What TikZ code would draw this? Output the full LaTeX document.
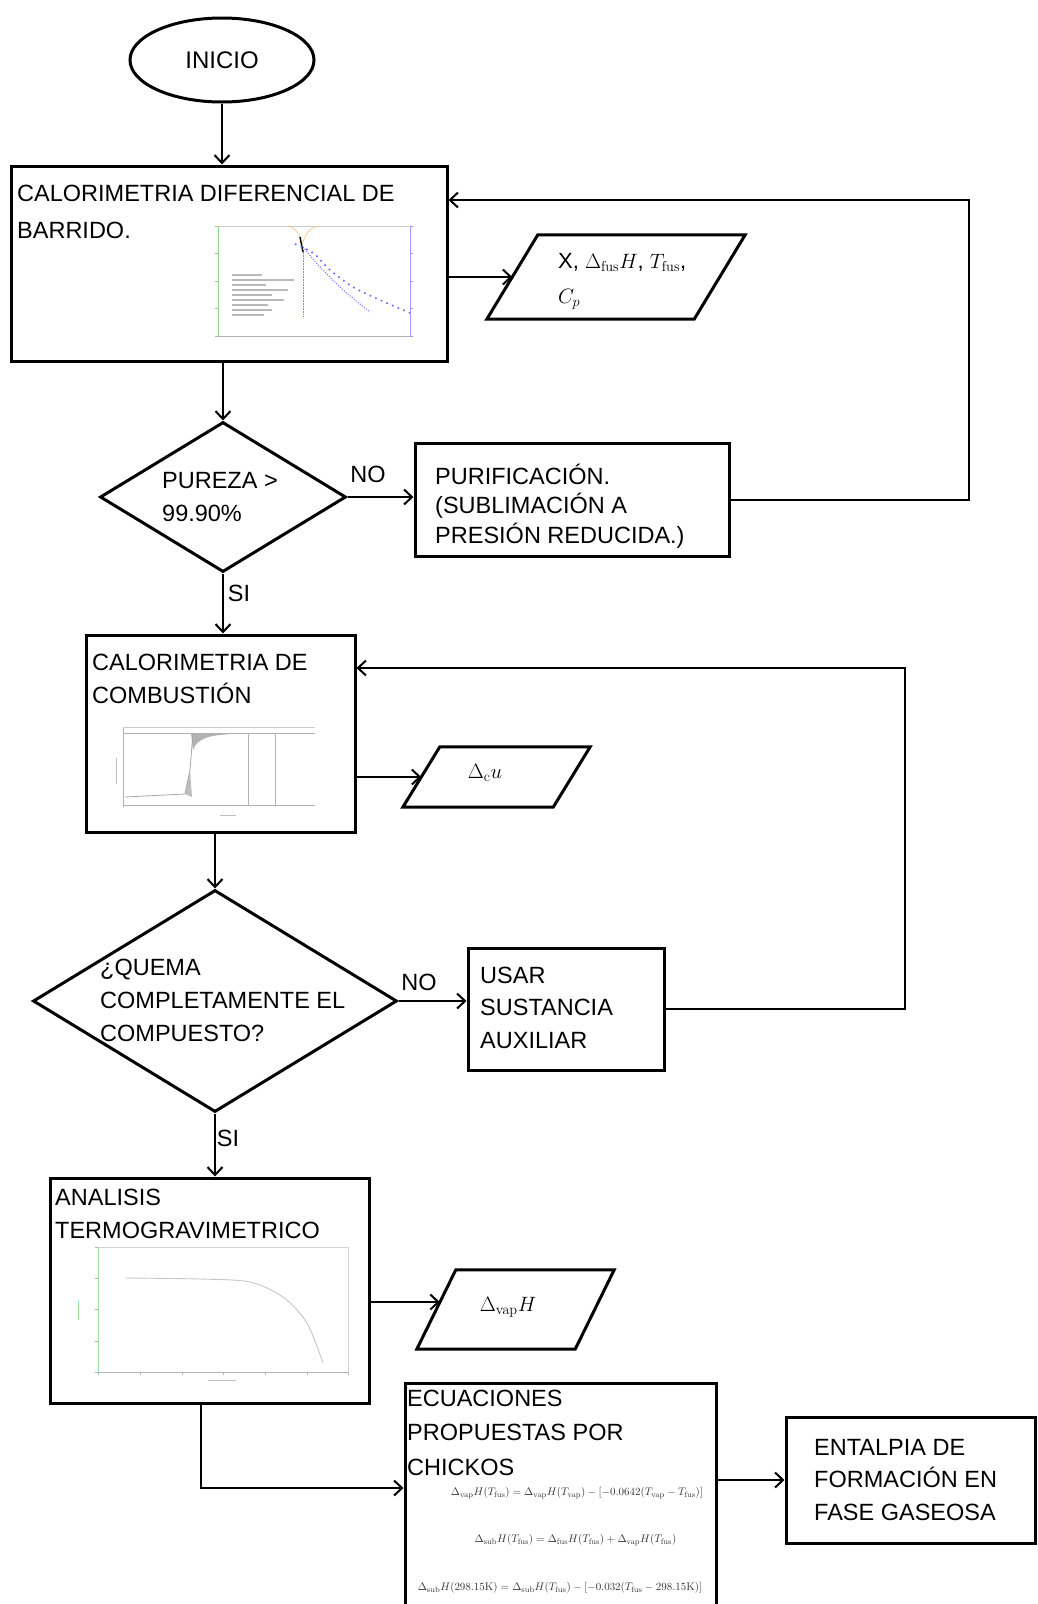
\documentclass[tikz,border=0pt]{standalone}
\usepackage{amsmath}
\usepackage[no-math]{fontspec}
\setmainfont{Liberation Sans}
\usepackage{tikz}
\usetikzlibrary{shapes.geometric}
\usetikzlibrary{arrows.meta}
\usetikzlibrary{calc}

\begin{document}
\begin{tikzpicture}[x=1pt, y=-1pt,
    caja/.style={draw, rectangle, line width=3pt, inner sep=0pt},
    rombo/.style={draw, diamond, line width=3pt, inner sep=0pt},
    datos/.style={rectangle, inner sep=0pt},
    borde/.style={line width=3pt, line join=miter},
    texto/.style={anchor=base west, align=left, inner sep=0pt, font=\fontsize{23.5}{33}\selectfont},
    etq/.style={inner sep=0pt, font=\fontsize{23.5}{28}\selectfont},
    mate/.style={inner sep=0pt, font=\fontsize{22}{35}\selectfont},
    eqn/.style={inner sep=0pt, text=black!80, font=\fontsize{11}{13}\selectfont},
    flecha/.style={-{Straight Barb[length=8pt,width=15pt]}, line width=2pt},
    graf/.style={line width=0.6pt, gray!60}]

\useasboundingbox (0,0) rectangle (1037,1604);

        \node[draw, ellipse, line width=3pt, minimum width=184pt, minimum height=84pt, font=\fontsize{24}{28}\selectfont] (inicio) at (222,60) {INICIO};

        % calorimetria diferencial
        \node[caja, minimum width=436pt, minimum height=195pt] (dsc) at (229,263.5) {};
        \node[texto, font=\fontsize{23.5}{37}\selectfont] (dsct) at (17,238.5) {CALORIMETRIA DIFERENCIAL DE\\BARRIDO.};
        \draw[graf, green!50!gray!60] (218,226) -- (218,336);
        \draw[graf] (218,336) -- (410,336);
        \draw[graf, gray!40] (218,226) -- (410,226);
        \draw[graf, blue!40] (410,226) -- (410,336);
        \foreach \yy in {226,253.5,281,308.5,336} {
          \draw[graf] (215,\yy) -- (218,\yy);
          \draw[graf, blue!40] (410,\yy) -- (413,\yy);
        }
        \draw[orange!60, line width=0.5pt] (288,226) .. controls (298,228) and (300,238) .. (302,245) .. controls (304,238) and (308,228) .. (318,226);
        \draw[green!50!gray, densely dotted, line width=0.6pt] (303,250) -- (303,316);
        \draw[line width=1.4pt] (300,237) -- (303,252);
        \draw[blue!60, line width=1.6pt, dash pattern=on 1.6pt off 4.5pt] plot[smooth] coordinates {(295,244) (313,253) (330,270) (353,287) (380,300) (410,313)};
        \draw[blue!55, line width=1.1pt, dash pattern=on 1pt off 1.6pt] plot[smooth] coordinates {(303,247) (320,267) (340,287) (355,300) (370,312)};
        \foreach \k/\w in {0/30,1/62,2/34,3/56,4/40,5/52,6/36,7/40,8/32} {
          \draw[gray!55, line width=1.3pt] (232,275+5*\k) -- ++(\w,0);
        }

        \node[datos, minimum width=258pt, minimum height=84pt] (res1) at (616,277) {};
        \draw[borde] (res1.south west) -- ($(res1.north west)+(51,0)$) -- (res1.north east) -- ($(res1.south east)-(51,0)$) -- cycle;
        \node[mate, anchor=base west, align=left] (res1t) at (558,303) {X, $\Delta_{\mathrm{fus}}H$, $T_{\mathrm{fus}}$,\\$C_p$};

        % pureza
        \node[rombo, minimum width=246pt, minimum height=150pt] (pureza) at (223,497) {};
        \node[texto] (purezat) at (162,521) {PUREZA >\\99.90\%};
        \node[etq] (no1) at (368,474) {NO};
        \node[caja, minimum width=314pt, minimum height=113pt] (purif) at (572,499.5) {};
        \node[texto, font=\fontsize{23.5}{29.5}\selectfont] (puriftx) at (435,543) {PURIFICACIÓN.\\(SUBLIMACIÓN A\\PRESIÓN REDUCIDA.)};
        \node[etq] (si1) at (239,593) {SI};

        % combustion
        \node[caja, minimum width=269pt, minimum height=197pt] (comb) at (220.5,733.5) {};
        \node[texto] (combt) at (92,703) {CALORIMETRIA DE\\COMBUSTIÓN};
        \draw[graf] (123,727) -- (123,807);
        \draw[graf, gray!40] (123,727) -- (315,727);
        \draw[graf] (123,733) -- (315,733);
        \draw[graf] (123,805) -- (315,805);
        \draw[graf] (248,733) -- (248,805);
        \draw[graf] (275,733) -- (275,805);
        \fill[gray!60] (191,733) -- (193,750) .. controls (197,738) and (210,735) .. (233,734) -- cycle;
        \fill[gray!50] (185,794) -- (190,770) -- (192,797) -- cycle;
        \draw[gray!70, line width=0.8pt] (125,797) -- (185,794) -- (190,770) -- (193,733);
        \draw[gray!50, line width=1pt] (116,758) -- (116,784);
        \draw[gray!50, line width=1pt] (220,815) -- (236,815);

        \node[datos, minimum width=187pt, minimum height=60pt] (res2) at (496.5,777) {};
        \draw[borde] (res2.south west) -- ($(res2.north west)+(37,0)$) -- (res2.north east) -- ($(res2.south east)-(37,0)$) -- cycle;
        \node[mate] (res2t) at (485,773) {$\Delta_{\mathrm{c}}u$};

        % quema
        \node[rombo, minimum width=364pt, minimum height=222pt] (quema) at (215,1001) {};
        \node[texto] (quemat) at (100,1041) {¿QUEMA\\COMPLETAMENTE EL\\COMPUESTO?};
        \node[etq] (no2) at (419,982) {NO};
        \node[caja, minimum width=196pt, minimum height=122pt] (usar) at (566,1009) {};
        \node[texto, font=\fontsize{23.5}{32.5}\selectfont] (usart) at (480,1048) {USAR\\SUSTANCIA\\AUXILIAR};
        \node[etq] (si2) at (228,1138) {SI};

        % termogravimetrico
        \node[caja, minimum width=319pt, minimum height=225pt] (tga) at (209.5,1290.5) {};
        \node[texto] (tgat) at (55,1238) {ANALISIS\\TERMOGRAVIMETRICO};
        \draw[graf, green!50!gray!50] (98,1247) -- (98,1372);
        \draw[graf, gray!35] (98,1247) -- (348,1247) -- (348,1372);
        \draw[graf] (98,1372) -- (348,1372);
        \foreach \yy in {1247,1278,1309.5,1341,1372} \draw[graf] (95,\yy) -- (98,\yy);
        \foreach \xx in {98,140,182,223,265,307,348} \draw[graf] (\xx,1372) -- (\xx,1375);
        \draw[gray!45, line width=0.9pt] plot[smooth] coordinates {(125,1278) (200,1279) (250,1282) (283,1297) (307,1323) (323,1363)};
        \draw[green!50!gray!50, line width=1pt] (78,1300) -- (78,1320);
        \draw[gray!50, line width=1pt] (208,1380) -- (236,1380);

        \node[datos, minimum width=197pt, minimum height=79pt] (res3) at (515.5,1309.5) {};
        \draw[borde] (res3.south west) -- ($(res3.north west)+(39,0)$) -- (res3.north east) -- ($(res3.south east)-(39,0)$) -- cycle;
        \node[mate] (res3t) at (508,1307) {$\Delta_{\mathrm{vap}}H$};

        % chickos
        \node[caja, minimum width=311pt, minimum height=237pt] (eqs) at (560.5,1501.5) {};
        \node[texto, font=\fontsize{23.5}{34.5}\selectfont] (eqst) at (407,1475) {ECUACIONES\\PROPUESTAS POR\\CHICKOS};
        \node[eqn] (ec1) at (577,1493) {$\Delta_{\mathrm{vap}}H(T_{\mathrm{fus}}) = \Delta_{\mathrm{vap}}H(T_{\mathrm{vap}}) - [-0.0642(T_{\mathrm{vap}} - T_{\mathrm{fus}})]$};
        \node[eqn] (ec2) at (575.5,1540) {$\Delta_{\mathrm{sub}}H(T_{\mathrm{fus}}) = \Delta_{\mathrm{fus}}H(T_{\mathrm{fus}}) + \Delta_{\mathrm{vap}}H(T_{\mathrm{fus}})$};
        \node[eqn] (ec3) at (560,1588) {$\Delta_{\mathrm{sub}}H(298.15\mathrm{K}) = \Delta_{\mathrm{sub}}H(T_{\mathrm{fus}}) - [-0.032(T_{\mathrm{fus}} - 298.15\mathrm{K})]$};

        \node[caja, minimum width=249pt, minimum height=126pt] (ental) at (910.5,1480) {};
        \node[texto, font=\fontsize{23.5}{32.5}\selectfont] (entalt) at (814,1520) {ENTALPIA DE\\FORMACIÓN EN\\FASE GASEOSA};

        \coordinate (ret1) at (969,200);
        \coordinate (ret2) at (905,668);
        \coordinate (codo) at (201,1488);
        \coordinate (res1in) at ($(res1.west)+(25.5,0)$);
        \coordinate (res2in) at ($(res2.west)+(18.5,0)$);
        \coordinate (res3in) at ($(res3.west)+(23,-7.5)$);

        \draw[flecha] (inicio) -- (dsc.north -| inicio);
        \draw[flecha] (dsc.east |- res1in) -- (res1in);
        \draw[flecha] (dsc.south -| pureza) -- (pureza.north);
        \draw[flecha] (pureza.east) -- (pureza.east -| purif.west);
        \draw[flecha] (purif.east) -| (ret1) -- (ret1 -| dsc.east);
        \draw[flecha] (pureza.south) -- (pureza.south |- comb.north);
        \draw[flecha] (comb.east |- res2in) -- (res2in);
        \draw[flecha] (comb.south -| quema) -- (quema.north);
        \draw[flecha] (quema.east) -- (quema.east -| usar.west);
        \draw[flecha] (usar.east) -| (ret2) -- (ret2 -| comb.east);
        \draw[flecha] (quema.south) -- (quema.south |- tga.north);
        \draw[flecha] (tga.east |- res3in) -- (res3in);
        \draw[flecha] (tga.south -| codo) |- (codo -| eqs.west);
        \draw[flecha] (eqs.east |- ental) -- (ental);
      \end{tikzpicture}
\end{document}
